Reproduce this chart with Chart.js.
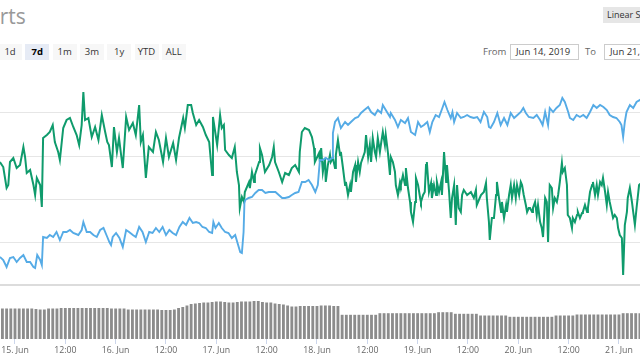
<!DOCTYPE html>
<html><head><meta charset="utf-8">
<script src="https://cdn.jsdelivr.net/npm/chart.js@4.4.1/dist/chart.umd.min.js"></script>
<style>
html,body{margin:0;padding:0;background:#fff;width:640px;height:360px;overflow:hidden;font-family:"Open Sans",sans-serif;}
#title{position:absolute;left:-38px;top:2px;font-size:21px;line-height:28px;color:#999;}
.rb{position:absolute;top:44px;height:16px;line-height:16px;width:24px;font-size:9.5px;color:#333;background:#f7f7f7;text-align:center;}
.rb.sel{background:#e6ebf5;font-weight:bold;color:#000;}
.lbl{position:absolute;top:44px;height:16px;line-height:16px;font-size:9.5px;color:#666;}
.inp{position:absolute;top:44px;height:14px;line-height:14px;border:1px solid #ccc;font-size:9.5px;color:#333;padding-left:5px;box-sizing:content-box;background:#fff;}
#scale{position:absolute;left:603px;top:7px;width:60px;height:16px;line-height:16px;background:#e6e6e6;font-size:9px;color:#333;padding-left:4px;}
#wrap{position:absolute;left:0;top:70px;width:640px;height:290px;}
</style></head>
<body>
<div id="title">Charts</div>
<div id="scale">Linear Scale</div>
<div id="ranges"></div>
<div class="lbl" style="left:483px">From</div>
<div class="inp" style="left:510px;width:62px">Jun 14, 2019</div>
<div class="lbl" style="left:585px">To</div>
<div class="inp" style="left:604px;width:62px">Jun 21, 2019</div>
<div id="wrap"><canvas id="c" width="640" height="290"></canvas></div>
<script>
const rangeButtons = ['1d','7d','1m','3m','1y','YTD','ALL'];
const selectedRange = '7d';
const xTickHours = [0,12,24,36,48,60,72,84,96,108,120,132,144];
const xTickLabels = ['15. Jun','12:00','16. Jun','12:00','17. Jun','12:00','18. Jun','12:00','19. Jun','12:00','20. Jun','12:00','21. Jun'];
const gridUsd = [0.914,0.957,1.000,1.043,1.086];

// Price in USD (blue), hours from 15 Jun 00:00
const usdHours = [-4.0,-3.6,-2.8,-2.0,-1.2,-0.4,0.4,1.2,2.0,2.8,3.6,4.4,4.8,5.3,6.0,6.4,6.7,7.6,8.3,9.1,9.9,10.7,11.5,12.3,13.1,13.9,15.1,15.9,16.3,17.1,17.9,18.7,19.5,20.3,21.1,22.0,22.5,22.9,23.3,24.1,24.9,25.7,26.5,27.2,28.1,28.8,29.6,30.4,31.2,32.0,32.8,33.6,34.4,35.2,36.0,36.8,37.6,38.4,39.2,40.0,40.8,41.6,42.4,43.2,43.9,44.7,45.5,46.3,47.0,47.3,47.8,48.6,49.3,50.1,50.9,51.7,52.5,53.2,53.7,54.1,54.5,54.7,54.9,55.7,56.5,57.3,58.1,58.9,59.7,60.5,61.3,62.1,62.9,63.7,64.4,65.3,66.0,66.8,67.6,68.4,69.2,70.0,70.8,71.6,72.2,72.7,73.4,74.1,74.9,75.6,75.8,76.3,77.0,77.7,78.7,79.4,80.1,81.1,81.8,82.5,83.3,84.2,84.9,85.8,86.5,87.3,87.7,88.4,89.4,89.6,90.6,91.3,92.0,93.0,93.7,94.4,95.4,96.1,96.8,97.5,98.3,98.9,99.5,100.3,101.1,101.9,102.4,103.1,103.9,104.3,104.7,105.4,106.3,107.0,107.8,108.6,109.4,110.2,111.0,111.8,112.6,113.0,113.4,114.2,115.0,115.8,116.6,117.4,118.2,119.0,119.8,120.6,121.2,121.8,122.5,123.6,124.4,125.2,125.8,126.4,127.1,127.5,128.3,129.1,129.9,130.5,131.1,131.9,132.3,133.1,133.9,134.7,135.5,136.3,137.1,137.9,138.7,139.5,140.3,141.1,141.8,142.6,143.4,144.2,144.6,145.0,145.4,145.8,146.6,147.4,148.2,149.0,150.0];
const usdPrice = [0.945,0.942,0.939,0.932,0.941,0.942,0.937,0.941,0.944,0.937,0.937,0.932,0.931,0.944,0.939,0.934,0.962,0.961,0.964,0.962,0.967,0.959,0.967,0.967,0.969,0.966,0.964,0.969,0.977,0.967,0.967,0.964,0.962,0.969,0.971,0.962,0.957,0.954,0.962,0.966,0.961,0.952,0.969,0.967,0.964,0.962,0.972,0.967,0.957,0.967,0.966,0.971,0.967,0.972,0.964,0.969,0.966,0.964,0.972,0.977,0.974,0.981,0.976,0.977,0.976,0.972,0.971,0.967,0.966,0.977,0.971,0.976,0.971,0.967,0.966,0.961,0.964,0.954,0.947,0.946,0.967,0.996,0.999,1.001,1.002,1.006,1.009,1.009,1.006,1.007,1.007,1.007,1.004,1.001,1.001,1.002,1.004,1.006,1.007,1.017,1.017,1.019,1.014,1.007,1.014,1.039,1.039,1.041,1.039,1.041,1.066,1.077,1.081,1.071,1.077,1.074,1.077,1.081,1.082,1.086,1.089,1.092,1.087,1.084,1.089,1.086,1.094,1.089,1.082,1.086,1.079,1.072,1.079,1.076,1.081,1.067,1.064,1.077,1.072,1.074,1.077,1.067,1.077,1.084,1.082,1.091,1.097,1.089,1.081,1.087,1.077,1.086,1.081,1.082,1.084,1.082,1.081,1.082,1.077,1.087,1.082,1.072,1.071,1.077,1.086,1.074,1.081,1.074,1.086,1.081,1.084,1.087,1.091,1.086,1.082,1.081,1.084,1.079,1.074,1.087,1.074,1.091,1.087,1.091,1.094,1.101,1.097,1.087,1.081,1.079,1.084,1.082,1.084,1.081,1.087,1.094,1.091,1.094,1.092,1.089,1.084,1.082,1.081,1.077,1.074,1.062,1.077,1.087,1.094,1.091,1.097,1.099,1.095];

// Price in BTC (green, satoshi), hours from 15 Jun 00:00
const btcHours = [-4.0,-3.6,-2.8,-2.0,-1.6,-1.2,-0.4,0.4,1.2,2.0,2.4,2.8,3.6,4.4,4.8,5.2,6.0,6.4,6.7,7.6,8.3,9.0,9.5,10.3,10.7,11.5,12.3,13.1,13.9,14.7,15.3,15.9,16.3,16.7,17.5,18.3,19.1,19.9,20.7,21.5,22.0,22.4,23.1,23.6,24.3,24.8,25.3,25.7,26.5,27.2,28.1,28.8,29.6,30.0,30.5,31.2,31.9,32.9,33.6,34.3,35.3,36.0,36.7,37.7,38.4,39.1,40.1,40.5,41.2,42.0,42.4,43.2,43.9,44.8,45.5,46.3,47.0,47.2,48.2,48.9,49.3,49.8,50.1,51.0,51.7,52.4,52.9,53.4,53.6,54.1,54.6,54.8,55.8,56.0,56.5,57.0,57.2,58.2,58.4,58.9,59.6,60.6,61.3,61.7,62.0,62.9,63.7,64.4,65.3,66.0,66.8,67.7,67.9,68.4,69.1,70.1,70.8,71.3,71.5,72.5,72.7,73.0,73.4,73.9,74.1,74.6,75.1,75.3,75.8,76.3,76.5,77.0,77.5,77.7,78.2,78.7,78.9,79.4,79.9,80.1,80.6,81.1,81.3,81.8,82.2,82.5,83.4,83.7,84.2,84.6,84.9,85.3,85.8,86.1,86.5,87.0,87.3,87.7,88.2,88.4,88.9,89.4,89.6,90.1,90.6,90.8,91.3,91.8,92.0,92.5,93.0,93.2,93.7,94.2,94.4,94.9,95.4,95.6,96.1,96.6,96.8,97.3,97.7,98.0,98.2,98.7,99.2,99.4,99.9,100.4,100.6,101.1,101.6,101.8,102.3,102.8,103.0,103.5,103.9,104.2,104.7,105.1,105.4,105.8,106.3,106.6,107.0,107.8,108.7,109.4,109.9,110.1,111.1,111.8,112.3,112.5,113.0,113.2,113.7,114.2,114.7,114.9,115.4,115.9,116.1,116.6,117.1,117.3,117.8,118.2,118.5,119.0,119.4,119.7,120.2,120.6,120.9,121.3,121.8,122.1,122.5,122.8,123.3,123.5,124.0,124.4,124.7,125.2,125.6,125.9,126.4,126.8,127.1,127.5,128.0,128.3,128.7,129.2,129.5,129.9,130.4,130.6,131.1,131.6,131.8,132.3,132.8,133.0,133.5,134.0,134.2,134.7,135.2,135.4,135.9,136.4,136.6,137.1,137.6,137.8,138.3,138.7,139.0,139.5,139.9,140.2,140.7,141.1,141.4,141.8,142.3,142.6,143.0,143.5,143.8,144.2,144.7,145.0,145.4,145.9,146.1,146.6,147.1,147.4,147.8,148.2,148.8,150.0];
const btcSats = [10350,10380,10330,10120,10150,10380,10420,10320,10350,10530,10430,10270,10300,10150,10050,10220,10150,9930,10620,10650,10680,10750,10580,10480,10400,10720,10800,10820,10730,10650,10550,10750,11080,10800,10820,10630,10730,10600,10850,10680,10580,10550,10330,10730,10480,10620,10450,10320,10830,10700,10770,10650,10950,10580,10650,10220,10530,10480,10680,10600,10380,10620,10430,10570,10400,10620,10820,10720,10950,10950,10870,10750,10800,10730,10650,10580,10250,10830,10550,10850,10720,10750,10500,10450,10420,10530,10280,10150,9920,10030,9980,10080,10180,10120,10280,10180,10250,10380,10520,10450,10280,10350,10430,10530,10380,10280,10180,10270,10250,10320,10350,10280,10480,10680,10720,10700,10630,10520,10380,10470,10380,10520,10280,10420,10180,10350,10450,10380,10420,10320,10450,10600,10450,10480,10320,10150,10180,10050,10150,10080,10280,10350,10180,10380,10280,10370,10480,10650,10430,10550,10380,10620,10480,10430,10620,10480,10570,10680,10550,10650,10480,10250,10430,10380,10280,10150,10050,10180,10150,10250,10150,10320,10120,9980,9880,9780,9980,10220,10150,10020,9980,10050,10080,10350,10380,10080,10170,10020,10150,10050,10180,10080,10180,10050,10480,10180,10350,10080,9820,10020,10150,9750,10150,9920,9880,10050,10100,10050,10080,10020,10100,9950,10050,10080,10170,10020,9780,9600,9820,9820,10050,10180,10020,9880,9980,9820,9950,9880,10050,10150,10020,10150,10020,10150,10050,10180,10150,10050,9950,9880,9920,9920,9880,9920,9980,9850,9950,9780,9720,9630,10020,9980,9580,10150,10120,9920,10020,9980,10050,10180,10370,10280,10320,10150,9850,9820,9720,9820,9780,9850,9880,9820,9870,9880,9950,9880,9920,10080,10150,10180,10050,10150,10050,10180,10150,10220,10080,9950,10080,9980,9880,9820,9850,9820,9720,9650,9620,9250,9750,9880,10020,10120,9980,9880,9750,9920,10150,10200];

// 24h volume (million USD), hourly from 14 Jun 21:00
const volumeStartHour = -3;
const volumeM = [30.5,30.5,30.5,30.5,30.5,30.5,30.5,30.5,30,29.5,29.5,30.5,30.5,30.5,31,31,31,31,31,31,31,31,31,31,31,31,30.5,30.5,30.5,30.5,29.5,29.5,29.5,29.5,29.5,29.5,29.5,29.5,29,29,29,29.5,31,32,33.5,35,35.5,36,36.5,36.5,37,37.5,37.5,37,36.5,36.5,37,37.5,37.5,37.5,38,38,37,36.5,36.5,35.5,35,34.5,33.5,32.5,32.5,33,33,33,33,33,33.5,33.5,33.5,33,33,24.2,24.2,24.2,24.2,24.2,24.2,24.2,24.2,24.2,25.8,25.8,25.8,25.8,25.8,25.8,25.8,25.8,25.8,25.8,25.8,25.8,25.8,25.8,26.8,26.8,26.8,26.8,25.2,25.2,25.2,25.2,25.2,25.2,23.5,23.5,23.5,23.5,23.5,23.5,23.5,22.2,22.2,22.2,22.2,22.2,22.2,22.2,22.2,22.2,22.2,22.2,23.5,23.5,23.5,23.5,23.5,24.5,24.5,24.5,24.5,24.5,24.5,24.5,24.5,24.5,24.5,24.5,25.8,25.8,25.8,25.8,25.8];

// range selector buttons
const rb = document.getElementById('ranges');
rangeButtons.forEach((t,i)=>{
  const d=document.createElement('div');
  d.className='rb'+(t===selectedRange?' sel':'');
  d.style.left=(-2+27.3*i)+'px';
  d.textContent=t; rb.appendChild(d);
});

new Chart(document.getElementById('c'), {
  type:'line',
  data:{datasets:[
    {label:'Price (USD)', data: usdHours.map((h,i)=>({x:h,y:usdPrice[i]})), yAxisID:'yUsd',
     borderColor:'#55abe6', borderWidth:1.9, pointRadius:0, tension:0, order:1},
    {label:'Price (BTC)', data: btcHours.map((h,i)=>({x:h,y:btcSats[i]})), yAxisID:'yBtc',
     borderColor:'#0f9b6c', borderWidth:2, pointRadius:0, tension:0, order:2},
    {type:'bar', label:'Volume (24h)', data: volumeM.map((v,i)=>({x:volumeStartHour+i,y:v})), yAxisID:'yVol',
     backgroundColor:'#8c8c8c', barPercentage:0.68, categoryPercentage:1, order:3}
  ]},
  options:{
    responsive:false, animation:false, maintainAspectRatio:false,
    layout:{padding:0},
    plugins:{legend:{display:false}, tooltip:{enabled:false}},
    scales:{
      x:{type:'linear', min:-3.576, max:149.02, offset:false,
        afterBuildTicks:s=>{s.ticks=xTickHours.map(v=>({value:v}));},
        afterFit:s=>{s.paddingLeft=0;s.paddingRight=0;s.height=21;},
        ticks:{autoSkip:false, maxRotation:0, padding:1, color:'#666',
          font:{family:'Open Sans', size:8.75}, callback:(v,i)=>xTickLabels[i]},
        grid:{offset:false, drawOnChartArea:false, drawTicks:true, tickLength:5, tickColor:'#ccd6eb'},
        border:{display:false}},
      yUsd:{position:'left', min:0.860, max:1.129,
        afterBuildTicks:s=>{s.ticks=gridUsd.map(v=>({value:v}));},
        afterFit:s=>{s.width=0;},
        ticks:{display:false},
        grid:{drawTicks:false,
          color:c=>c.tick && c.tick.value===gridUsd[0]?'#dcdcdc':'#e6e6e6',
          lineWidth:c=>c.tick && c.tick.value===gridUsd[0]?2:1},
        border:{display:false}},
      yBtc:{display:false, min:8610, max:11300},
      yVol:{display:false, min:0, max:269}
    }
  }
});
</script>
</body></html>
